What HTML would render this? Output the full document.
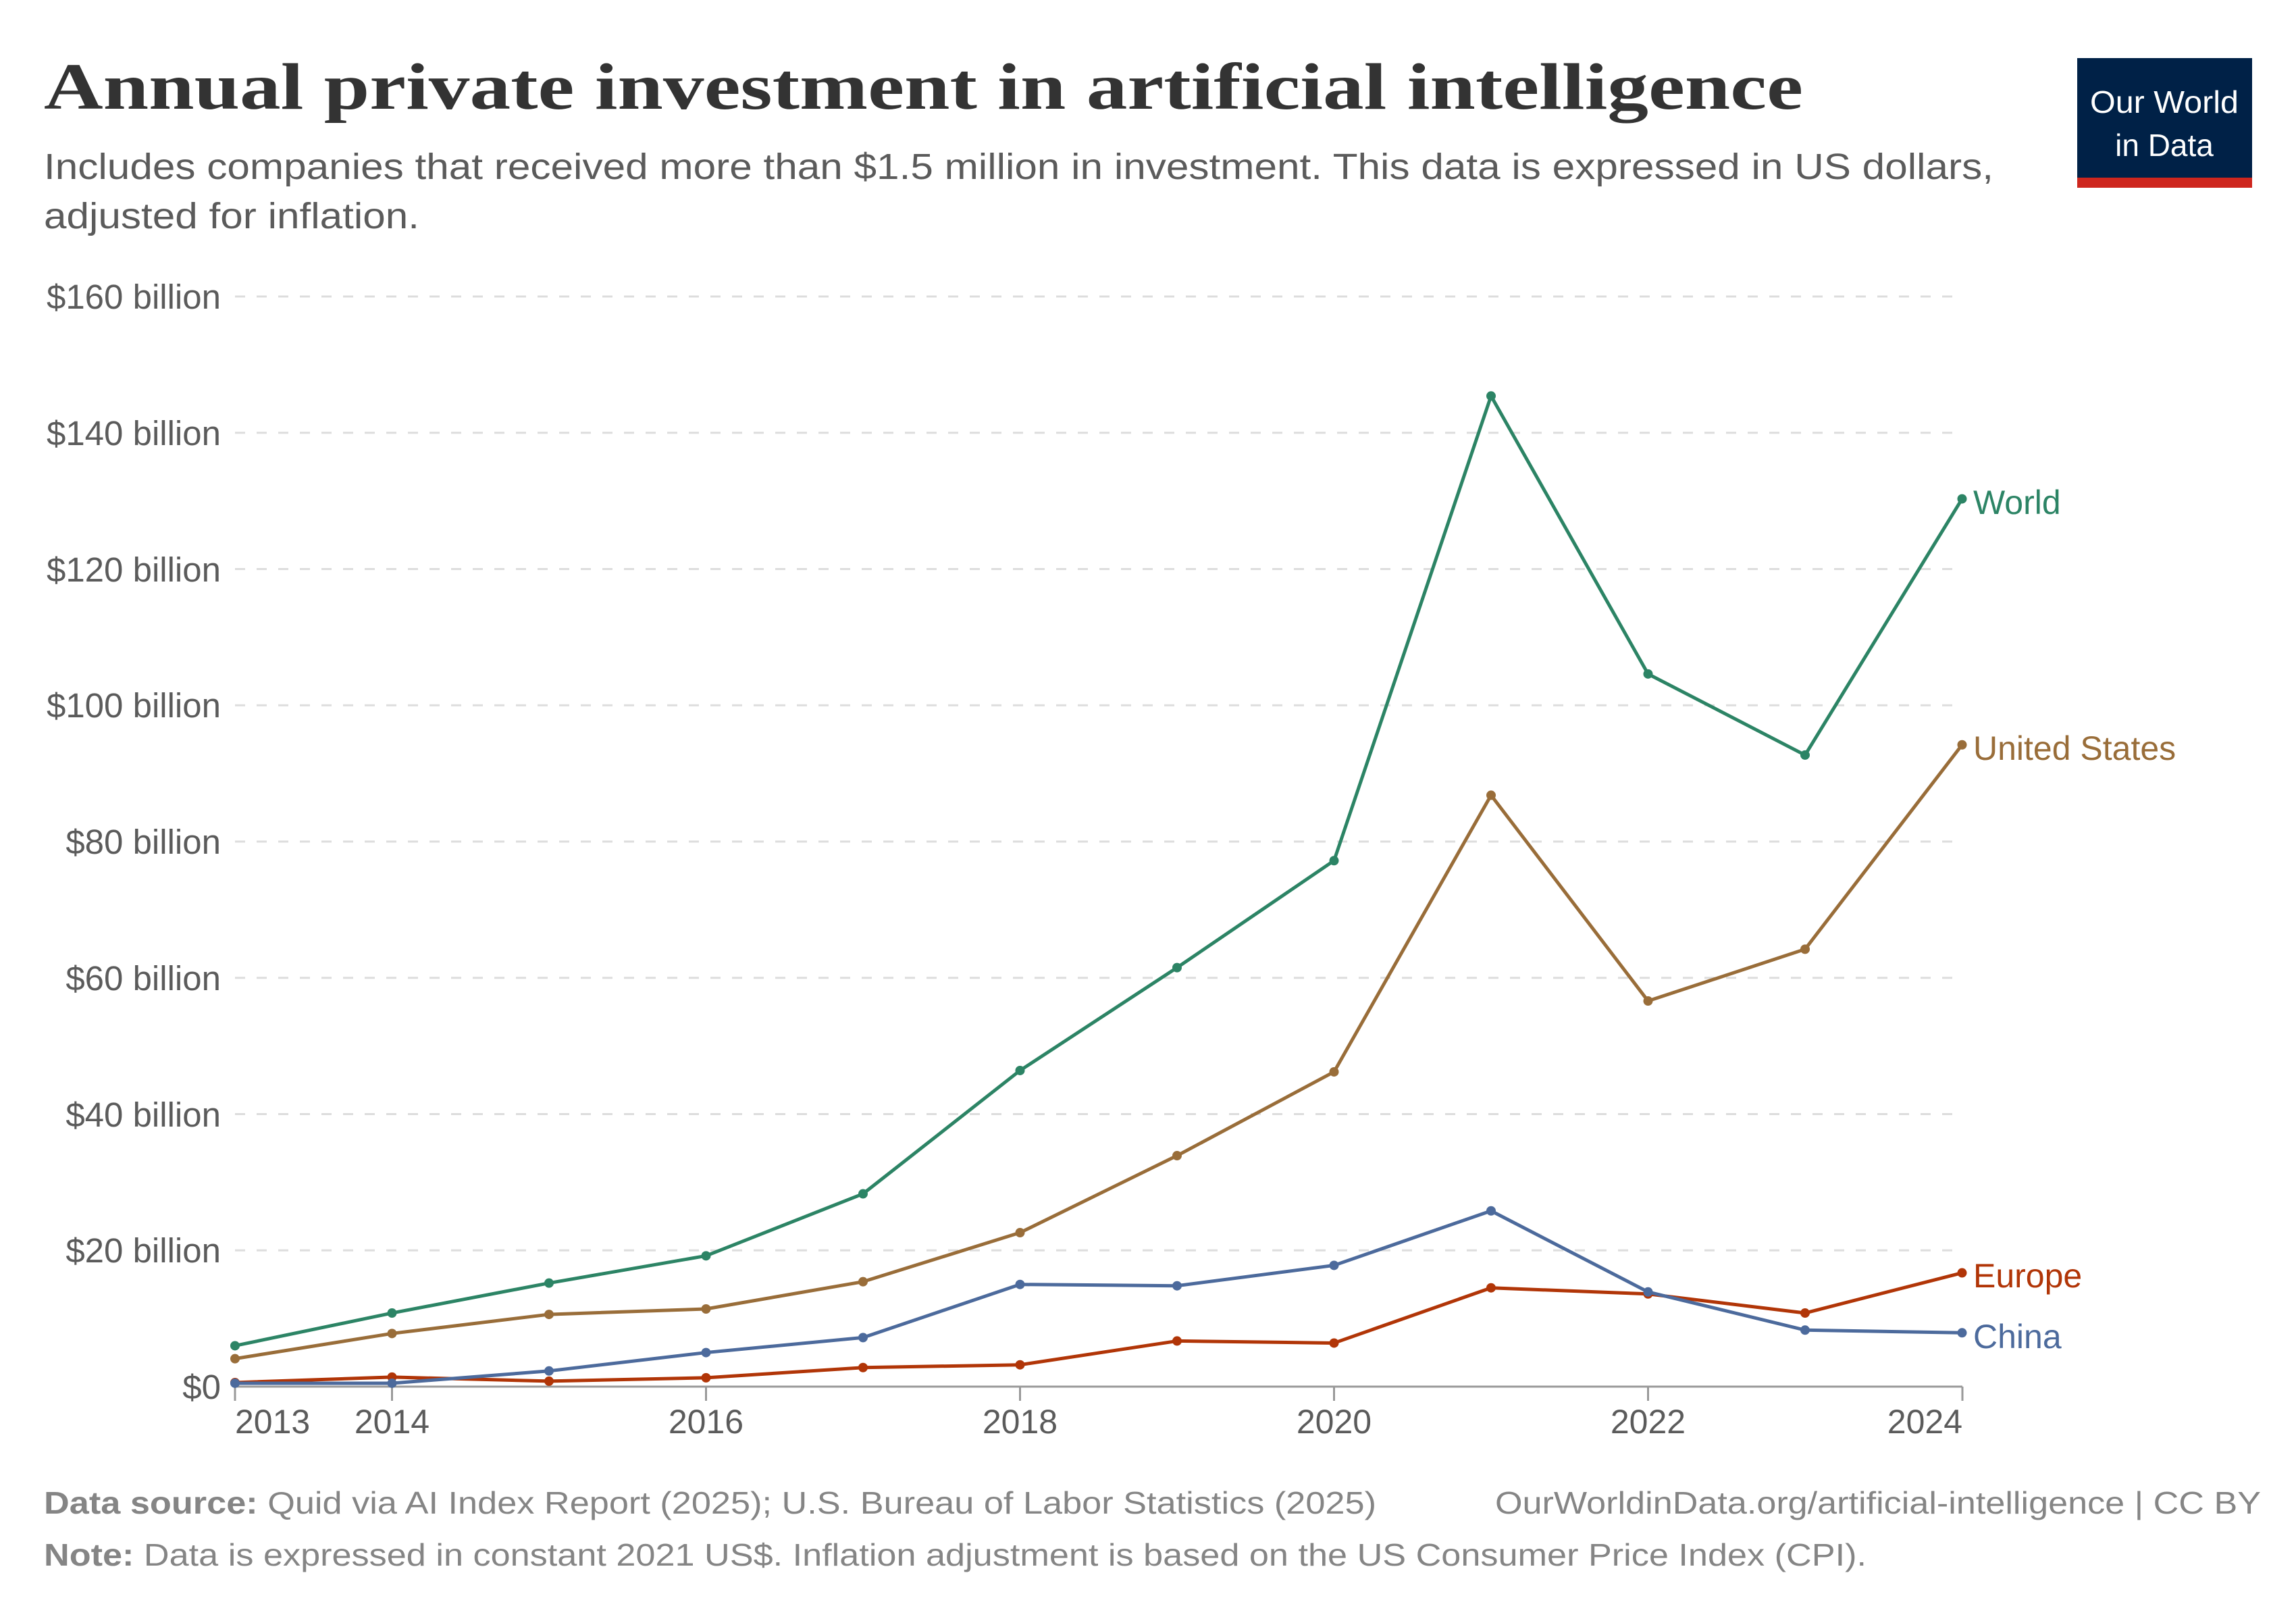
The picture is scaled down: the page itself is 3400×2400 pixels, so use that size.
<!DOCTYPE html>
<html><head><meta charset="utf-8"><style>
html,body{margin:0;padding:0;background:#fff;}
svg{display:block;}
text{font-family:"Liberation Sans",Arial,sans-serif;}
</style></head><body>
<svg xmlns="http://www.w3.org/2000/svg" width="3400" height="2400" viewBox="0 0 3400 2400">
<rect width="3400" height="2400" fill="#fff"/>
<text x="65" y="161" font-weight="bold" font-size="98" fill="#333" textLength="2605" lengthAdjust="spacingAndGlyphs" style="font-family:'Liberation Serif',serif">Annual private investment in artificial intelligence</text>
<text x="65" y="265" font-size="54" fill="#5b5b5b" textLength="2887" lengthAdjust="spacingAndGlyphs">Includes companies that received more than $1.5 million in investment. This data is expressed in US dollars,</text>
<text x="65" y="338" font-size="54" fill="#5b5b5b" textLength="556" lengthAdjust="spacingAndGlyphs">adjusted for inflation.</text>
<rect x="3076" y="86" width="259" height="192" fill="#002147"/>
<rect x="3076" y="263" width="259" height="15" fill="#ce261e"/>
<text x="3205" y="167" font-size="46" fill="#fff" text-anchor="middle" textLength="220" lengthAdjust="spacingAndGlyphs">Our World</text>
<text x="3205" y="231" font-size="46" fill="#fff" text-anchor="middle">in Data</text>
<g id="grid" stroke="#dddddd" stroke-width="3" stroke-dasharray="15,17"></g>
<g id="ylab" font-size="51" fill="#5b5b5b" text-anchor="end">
<text x="327" y="457">$160 billion</text>
<text x="327" y="659">$140 billion</text>
<text x="327" y="861">$120 billion</text>
<text x="327" y="1062">$100 billion</text>
<text x="327" y="1264">$80 billion</text>
<text x="327" y="1466">$60 billion</text>
<text x="327" y="1668">$40 billion</text>
<text x="327" y="1869">$20 billion</text>
<text x="327" y="2071">$0</text>
</g>
<line x1="348" y1="2053" x2="2906" y2="2053" stroke="#999" stroke-width="3"/>
<g stroke="#999" stroke-width="3">
<line x1="348" y1="2053" x2="348" y2="2074"/><line x1="580.5" y1="2053" x2="580.5" y2="2074"/>
<line x1="1045.5" y1="2053" x2="1045.5" y2="2074"/><line x1="1510.5" y1="2053" x2="1510.5" y2="2074"/>
<line x1="1975.5" y1="2053" x2="1975.5" y2="2074"/><line x1="2440.5" y1="2053" x2="2440.5" y2="2074"/>
<line x1="2906" y1="2053" x2="2906" y2="2074"/>
</g>
<g font-size="50" fill="#5b5b5b" text-anchor="middle">
<text x="348" y="2122" text-anchor="start">2013</text>
<text x="580.5" y="2122">2014</text>
<text x="1045.5" y="2122">2016</text>
<text x="1510.5" y="2122">2018</text>
<text x="1975.5" y="2122">2020</text>
<text x="2440.5" y="2122">2022</text>
<text x="2906" y="2122" text-anchor="end">2024</text>
</g>
<g id="series"></g>
<g font-size="50">
<text x="2922" y="761" fill="#2c8465">World</text>
<text x="2922" y="1125" fill="#996d39">United States</text>
<text x="2922" y="1906" fill="#b13507">Europe</text>
<text x="2922" y="1996" fill="#4c6a9c">China</text>
</g>
<text x="65" y="2241" font-size="46" fill="#858585" textLength="1973" lengthAdjust="spacingAndGlyphs"><tspan font-weight="bold">Data source:</tspan> Quid via AI Index Report (2025); U.S. Bureau of Labor Statistics (2025)</text>
<text x="2214" y="2241" font-size="46" fill="#858585" textLength="1134" lengthAdjust="spacingAndGlyphs">OurWorldinData.org/artificial-intelligence | CC BY</text>
<text x="65" y="2318" font-size="46" fill="#858585" textLength="2699" lengthAdjust="spacingAndGlyphs"><tspan font-weight="bold">Note:</tspan> Data is expressed in constant 2021 US$. Inflation adjustment is based on the US Consumer Price Index (CPI).</text>
<script>
var NS="http://www.w3.org/2000/svg";
function Y(v){return 2053-v*10.0875;}
function X(i){return 348+232.5*i;}
var g=document.getElementById("grid");
for(var k=1;k<=8;k++){var l=document.createElementNS(NS,"line");var y=Y(k*20);
l.setAttribute("x1",348);l.setAttribute("x2",2892);l.setAttribute("y1",y);l.setAttribute("y2",y);g.appendChild(l);}
var data=[
["#996d39",[4.1,7.8,10.6,11.4,15.4,22.6,33.9,46.2,86.8,56.6,64.2,94.2]],
["#2c8465",[6,10.8,15.2,19.2,28.3,46.4,61.5,77.2,145.4,104.6,92.7,130.3]],
["#b13507",[0.6,1.4,0.8,1.3,2.8,3.2,6.7,6.4,14.5,13.6,10.8,16.7]],
["#4c6a9c",[0.5,0.5,2.3,5,7.2,15,14.8,17.8,25.8,13.9,8.3,7.9]]];
var s=document.getElementById("series");
data.forEach(function(d){var pts=d[1].map(function(v,i){return X(i)+","+Y(v);}).join(" ");
var p=document.createElementNS(NS,"polyline");p.setAttribute("points",pts);p.setAttribute("fill","none");
p.setAttribute("stroke",d[0]);p.setAttribute("stroke-width","5");p.setAttribute("stroke-linejoin","round");s.appendChild(p);
d[1].forEach(function(v,i){var c=document.createElementNS(NS,"circle");c.setAttribute("cx",X(i));c.setAttribute("cy",Y(v));c.setAttribute("r","7");c.setAttribute("fill",d[0]);s.appendChild(c);});});
</script>
</svg>
</body></html>
